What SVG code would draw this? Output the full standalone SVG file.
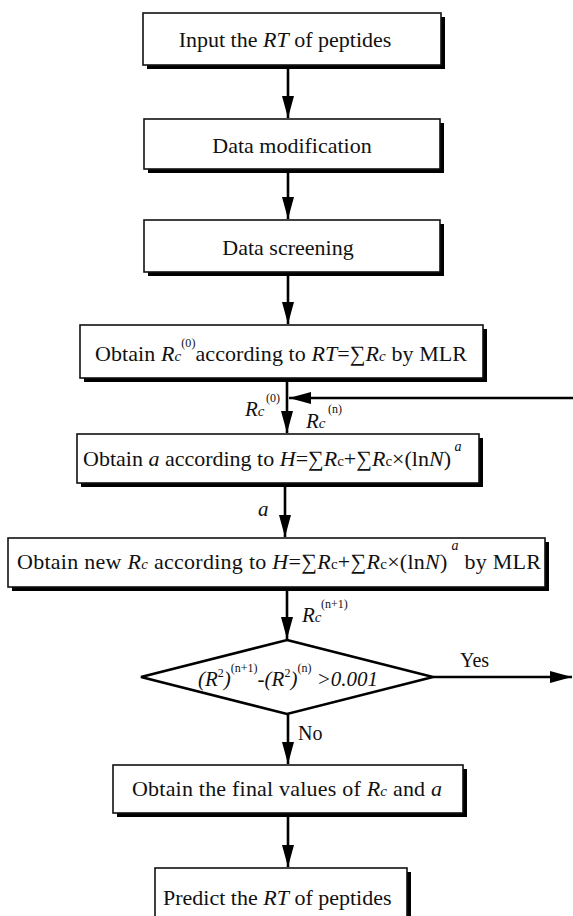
<svg xmlns="http://www.w3.org/2000/svg" width="573" height="916" viewBox="0 0 573 916">
<style>
text{font-family:"Liberation Serif","Times New Roman",serif;fill:#111;}
.t{font-size:22px;}
.i{font-style:italic;}
.sup{font-size:12px;font-style:normal;}
.box{fill:#fff;stroke:#111;stroke-width:1.6;}
.shd{fill:#000;filter:url(#blur);}
.ln{stroke:#000;stroke-width:2.6;fill:none;marker-end:url(#ah);}
.dia{fill:#fff;stroke:#000;stroke-width:2.6;}
</style>
<defs>
<filter id="blur" x="-5%" y="-20%" width="110%" height="140%"><feGaussianBlur stdDeviation="0.6"/></filter>
<marker id="ah" markerUnits="userSpaceOnUse" viewBox="0 0 22 12" refX="22" refY="6" markerWidth="22" markerHeight="12" orient="auto">
<path d="M0,0 L22,6 L0,12 z" fill="#000"/>
</marker>
</defs>
<rect width="573" height="916" fill="#fff"/>

<g id="connectors">
<line class="ln" x1="288" y1="66" x2="288" y2="118"/>
<line class="ln" x1="288" y1="170" x2="288" y2="219"/>
<line class="ln" x1="288" y1="273" x2="288" y2="324"/>
<line class="ln" x1="287" y1="379" x2="287" y2="433"/>
<line class="ln" x1="573" y1="398" x2="289" y2="398"/>
<line class="ln" x1="285" y1="484" x2="285" y2="537"/>
<line class="ln" x1="287" y1="588" x2="287" y2="639"/>
<line class="ln" x1="433" y1="677" x2="572" y2="677"/>
<line class="ln" x1="288" y1="714" x2="288" y2="764"/>
<line class="ln" x1="288" y1="814" x2="288" y2="867"/>
<text x="245" y="416" font-size="21" class="i">R<tspan font-size="15">c</tspan></text>
<text x="266" y="402" class="sup">(0)</text>
<text x="306" y="428" font-size="21" class="i">R<tspan font-size="15">c</tspan></text>
<text x="328" y="413" class="sup">(n)</text>
<text x="258" y="516" font-size="21" class="i">a</text>
<text x="302" y="622" font-size="21" class="i">R<tspan font-size="15">c</tspan></text>
<text x="321" y="608" class="sup">(n+1)</text>
<text x="460" y="667" font-size="20">Yes</text>
<text x="298" y="740" font-size="20">No</text>
</g>

<g id="n1">
<rect class="shd" x="147" y="17" width="298" height="52"/>
<rect class="box" x="143" y="13" width="298" height="52"/>
<text class="t" x="285" y="47" text-anchor="middle">Input the <tspan class="i">RT</tspan> of peptides</text>
</g>

<g id="n2">
<rect class="shd" x="148" y="123" width="296" height="50"/>
<rect class="box" x="144" y="119" width="296" height="50"/>
<text class="t" x="292" y="153" text-anchor="middle">Data modification</text>
</g>

<g id="n3">
<rect class="shd" x="148" y="224" width="296" height="52"/>
<rect class="box" x="144" y="220" width="296" height="52"/>
<text class="t" x="288" y="255" text-anchor="middle">Data screening</text>
</g>

<g id="n4">
<rect class="shd" x="84" y="329" width="403" height="53"/>
<rect class="box" x="80" y="325" width="403" height="53"/>
<text class="t" x="95" y="361" textLength="372" lengthAdjust="spacing">Obtain <tspan class="i">R</tspan><tspan class="i" font-size="15">c</tspan><tspan class="sup" dy="-14">(0)</tspan><tspan dy="14">according to </tspan><tspan class="i">RT</tspan>=∑<tspan class="i">R</tspan><tspan class="i" font-size="15">c</tspan> by MLR</text>
</g>

<g id="n5">
<rect class="shd" x="81" y="438" width="402" height="49"/>
<rect class="box" x="77" y="434" width="402" height="49"/>
<text class="t" x="83" y="466">Obtain <tspan class="i">a</tspan> according to <tspan class="i">H</tspan>=∑<tspan class="i">R</tspan><tspan font-size="15">c</tspan>+∑<tspan class="i">R</tspan><tspan font-size="15">c</tspan>×(ln<tspan class="i">N</tspan>)<tspan class="i" font-size="14" dy="-15"> a</tspan></text>
</g>

<g id="n6">
<rect class="shd" x="12" y="542" width="537" height="49"/>
<rect class="box" x="8" y="538" width="537" height="49"/>
<text class="t" x="17" y="569" textLength="524" lengthAdjust="spacing">Obtain new <tspan class="i">R</tspan><tspan class="i" font-size="15">c</tspan>  according to <tspan class="i">H</tspan>=∑<tspan class="i">R</tspan><tspan font-size="15">c</tspan>+∑<tspan class="i">R</tspan><tspan font-size="15">c</tspan>×(ln<tspan class="i">N</tspan>)<tspan class="i" font-size="14" dy="-19"> a</tspan><tspan dy="19">  by MLR</tspan></text>
</g>

<g id="n7">
<polygon class="dia" points="287,640 433,677 287,714 141,677"/>
<text x="198" y="686" font-size="21" class="i">(R<tspan class="sup" dy="-9">2</tspan><tspan dy="9">)</tspan><tspan class="sup" dy="-14">(n+1)</tspan><tspan dy="14">-(R</tspan><tspan class="sup" dy="-9">2</tspan><tspan dy="9">)</tspan><tspan class="sup" dy="-14">(n)</tspan><tspan dy="14"> &gt;0.001</tspan></text>
</g>

<g id="n8">
<rect class="shd" x="117" y="769" width="350" height="48"/>
<rect class="box" x="113" y="765" width="350" height="48"/>
<text class="t" x="132" y="796" textLength="310" lengthAdjust="spacing">Obtain the final values of <tspan class="i">R</tspan><tspan class="i" font-size="15">c</tspan> and <tspan class="i">a</tspan></text>
</g>

<g id="n9">
<rect class="shd" x="159" y="872" width="252" height="60"/>
<rect class="box" x="155" y="868" width="252" height="60"/>
<text class="t" x="163" y="905">Predict the <tspan class="i">RT</tspan> of peptides</text>
</g>
</svg>
